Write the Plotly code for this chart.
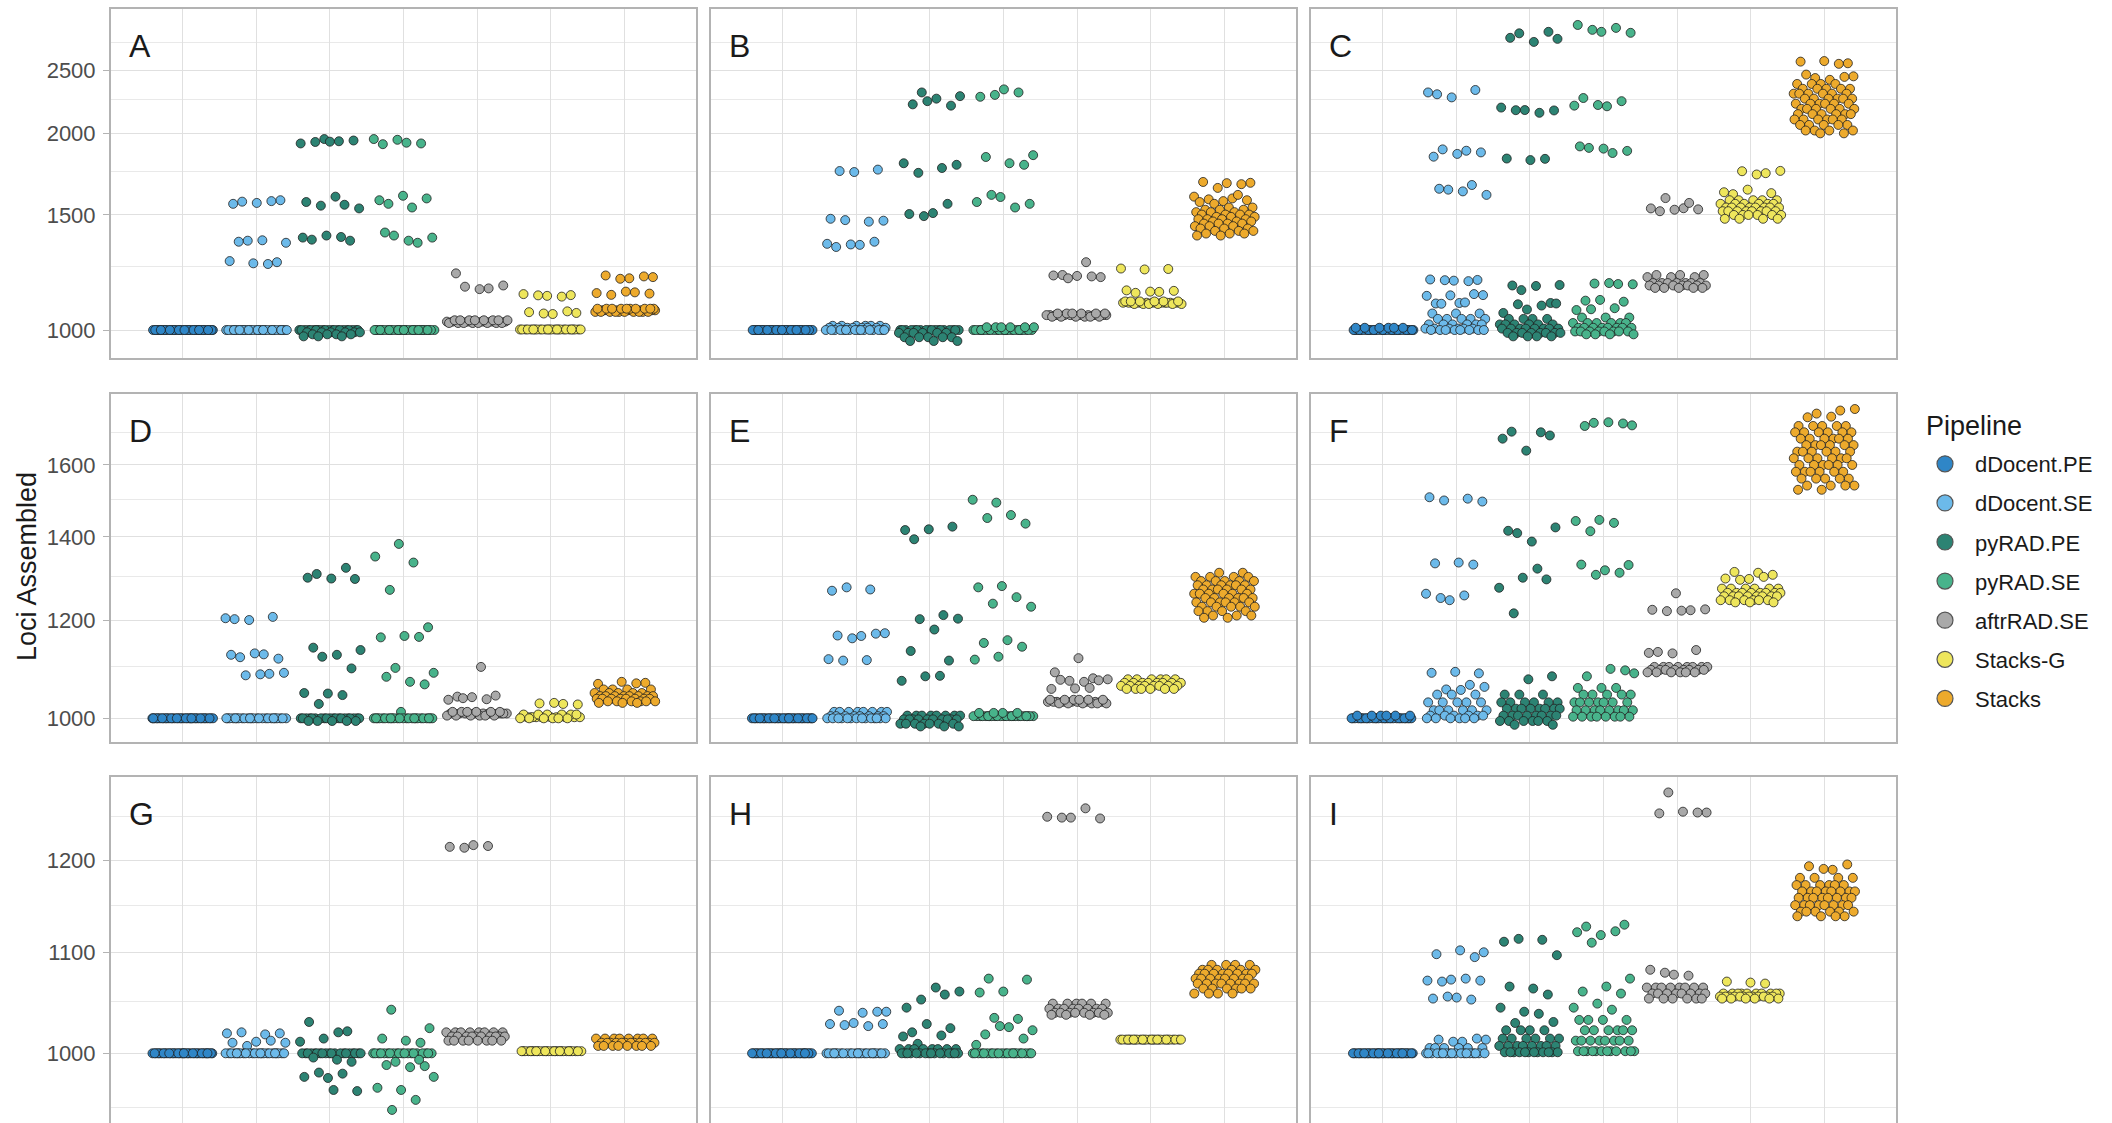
import plotly.graph_objects as go

# ---------------------------------------------------------------------------
# Data: loci assembled by each pipeline in nine simulated data sets (A-I).
# Each pipeline is given as (loci assembled, number of samples) pairs.
# ---------------------------------------------------------------------------
PIPELINES = ["dDocent.PE", "dDocent.SE", "pyRAD.PE", "pyRAD.SE",
             "aftrRAD.SE", "Stacks-G", "Stacks"]
COLORS = ["#2F86C7", "#6CBAEA", "#2C8373", "#48B38B",
          "#A9A9A9", "#EEE65C", "#EDAA2C"]
PANEL_LABELS = ["A", "B", "C", "D", "E", "F", "G", "H", "I"]

loci_A = [
    [(1000, 36)],
    [(1572, 1), (1580, 1), (1565, 1), (1560, 1), (1575, 1), (1370, 1), (1360, 1),
     (1372, 1), (1365, 1), (1270, 1), (1265, 1), (1275, 1), (1262, 1), (1000, 30)],
    [(1960, 1), (1930, 1), (1945, 1), (1940, 1), (1950, 1), (1942, 1), (1570, 1),
     (1555, 1), (1550, 1), (1535, 1), (1600, 1), (1375, 1), (1370, 1), (1395, 1),
     (1385, 1), (1388, 1), (1000, 22), (992, 6), (985, 4), (978, 3)],
    [(1935, 1), (1925, 1), (1930, 1), (1955, 1), (1960, 1), (1540, 1), (1560, 1),
     (1590, 1), (1605, 1), (1580, 1), (1360, 1), (1395, 1), (1385, 1), (1370, 1),
     (1410, 1), (1000, 30)],
    [(1158, 1), (1165, 1), (1170, 1), (1155, 1), (1221, 1), (1030, 12), (1025, 8),
     (1035, 8)],
    [(1131, 1), (1128, 1), (1135, 1), (1125, 1), (1130, 1), (1062, 1), (1058, 1),
     (1065, 1), (1068, 1), (1060, 1), (1002, 26)],
    [(1205, 1), (1200, 1), (1212, 1), (1208, 1), (1198, 1), (1139, 1), (1142, 1),
     (1132, 1), (1137, 1), (1145, 1), (1072, 14), (1066, 10), (1078, 10)],
]

loci_B = [
    [(1000, 36)],
    [(1751, 1), (1760, 1), (1745, 1), (1480, 1), (1465, 1), (1473, 1), (1470, 1),
     (1350, 1), (1340, 1), (1365, 1), (1352, 1), (1355, 1), (1015, 6), (1008, 8),
     (1000, 16)],
    [(2310, 1), (2280, 1), (2260, 1), (2215, 1), (2205, 1), (2240, 1), (1800, 1),
     (1770, 1), (1740, 1), (1790, 1), (1510, 1), (1505, 1), (1560, 1), (1494, 1),
     (1000, 18), (990, 6), (975, 5), (962, 3)],
    [(2335, 1), (2275, 1), (2310, 1), (2290, 1), (1852, 1), (1800, 1), (1840, 1),
     (1790, 1), (1598, 1), (1570, 1), (1540, 1), (1610, 1), (1560, 1), (1000, 24),
     (1010, 6)],
    [(1270, 1), (1214, 1), (1205, 1), (1210, 1), (1212, 1), (1208, 1), (1200, 1),
     (1054, 14), (1048, 6), (1060, 6)],
    [(1240, 1), (1238, 1), (1242, 1), (1144, 1), (1140, 1), (1148, 1), (1145, 1),
     (1150, 1), (1101, 14), (1096, 6), (1106, 6)],
    [(1680, 1), (1678, 1), (1685, 1), (1672, 1), (1650, 1), (1600, 1), (1590, 1),
     (1585, 1), (1580, 1), (1575, 1), (1570, 1), (1610, 1), (1560, 1), (1540, 2),
     (1528, 3), (1515, 3), (1502, 4), (1490, 3), (1478, 4), (1466, 3), (1455, 4),
     (1442, 3), (1430, 3), (1418, 3), (1405, 3), (1395, 2)],
]

loci_C = [
    [(1000, 30), (1008, 6)],
    [(2295, 1), (2330, 1), (2270, 1), (2310, 1), (1881, 1), (1890, 1), (1870, 1),
     (1860, 1), (1842, 1), (1667, 1), (1640, 1), (1610, 1), (1630, 1), (1645, 1),
     (1193, 1), (1190, 1), (1195, 1), (1188, 1), (1192, 1), (1131, 1), (1100, 1),
     (1098, 1), (1135, 1), (1130, 1), (1128, 1), (1102, 1), (1097, 1), (1060, 3),
     (1040, 5), (1020, 6), (1005, 6), (1000, 8)],
    [(2845, 1), (2790, 1), (2760, 1), (2800, 1), (2860, 1), (2171, 1), (2190, 1),
     (2150, 1), (2170, 1), (2168, 1), (1820, 1), (1830, 1), (1828, 1), (1151, 1),
     (1172, 1), (1168, 1), (1170, 1), (1100, 1), (1075, 1), (1062, 1), (1090, 1),
     (1095, 1), (1098, 1), (1040, 4), (1020, 6), (1005, 8), (990, 8), (978, 4)],
    [(2860, 1), (2930, 1), (2900, 1), (2880, 1), (2850, 1), (2200, 1), (2265, 1),
     (2240, 1), (2210, 1), (2205, 1), (1866, 1), (1900, 1), (1880, 1), (1895, 1),
     (1910, 1), (1176, 1), (1178, 1), (1175, 1), (1180, 1), (1109, 1), (1105, 1),
     (1112, 1), (1073, 1), (1080, 1), (1076, 1), (1045, 3), (1025, 6), (1008, 8),
     (995, 8), (985, 4)],
    [(1536, 1), (1520, 1), (1530, 1), (1528, 1), (1535, 1), (1565, 1), (1592, 1),
     (1214, 3), (1205, 3), (1180, 7), (1170, 7), (1160, 5)],
    [(1738, 1), (1750, 1), (1752, 1), (1730, 1), (1614, 1), (1620, 1), (1640, 1),
     (1625, 1), (1580, 5), (1560, 6), (1540, 8), (1520, 8), (1500, 6), (1480, 4)],
    [(2560, 1), (2580, 1), (2575, 1), (2555, 1), (2430, 1), (2445, 1), (2415, 1),
     (2460, 1), (2440, 1), (2380, 4), (2340, 5), (2300, 6), (2260, 6), (2220, 6),
     (2180, 6), (2140, 6), (2100, 6), (2060, 5), (2020, 4), (2000, 2)],
]

loci_D = [
    [(1000, 36)],
    [(1202, 1), (1207, 1), (1200, 1), (1204, 1), (1126, 1), (1120, 1), (1117, 1),
     (1128, 1), (1125, 1), (1086, 1), (1083, 1), (1088, 1), (1085, 1), (1000, 25)],
    [(1307, 1), (1295, 1), (1296, 1), (1298, 1), (1322, 1), (1121, 1), (1135, 1),
     (1125, 1), (1140, 1), (1097, 1), (1047, 1), (1048, 1), (1044, 1), (1027, 1),
     (1000, 20), (995, 5)],
    [(1382, 1), (1350, 1), (1335, 1), (1269, 1), (1184, 1), (1165, 1), (1162, 1),
     (1163, 1), (1098, 1), (1088, 1), (1070, 1), (1080, 1), (1065, 1), (1012, 1),
     (1000, 25)],
    [(1100, 1), (1041, 1), (1043, 1), (1040, 1), (1035, 1), (1036, 1), (1038, 1),
     (1009, 14), (1005, 6), (1012, 6)],
    [(1027, 1), (1028, 1), (1026, 1), (1029, 1), (1002, 14), (1007, 6), (1000, 6)],
    [(1068, 1), (1070, 1), (1066, 1), (1067, 1), (1055, 4), (1048, 5), (1042, 8),
     (1037, 8), (1032, 6), (1029, 3)],
]

loci_E = [
    [(1000, 36)],
    [(1267, 1), (1270, 1), (1275, 1), (1171, 1), (1165, 1), (1166, 1), (1170, 1),
     (1160, 1), (1116, 1), (1114, 1), (1113, 1), (1012, 8), (1004, 8), (1000, 14)],
    [(1394, 1), (1427, 1), (1420, 1), (1418, 1), (1211, 1), (1202, 1), (1203, 1),
     (1179, 1), (1133, 1), (1113, 1), (1081, 1), (1072, 1), (1082, 1), (1005, 8),
     (998, 10), (990, 7), (985, 3)],
    [(1492, 1), (1500, 1), (1458, 1), (1450, 1), (1435, 1), (1278, 1), (1275, 1),
     (1252, 1), (1237, 1), (1230, 1), (1156, 1), (1150, 1), (1142, 1), (1121, 1),
     (1115, 1), (1004, 24), (1010, 4)],
    [(1118, 1), (1089, 1), (1077, 1), (1072, 1), (1075, 1), (1070, 1), (1074, 1),
     (1073, 1), (1057, 1), (1056, 1), (1058, 1), (1031, 12), (1028, 6), (1035, 6)],
    [(1075, 6), (1068, 8), (1062, 8), (1056, 6)],
    [(1310, 2), (1300, 4), (1290, 5), (1280, 6), (1270, 6), (1260, 6), (1250, 6),
     (1240, 6), (1230, 5), (1220, 4), (1210, 3), (1205, 2)],
]

loci_F = [
    [(1000, 30), (1005, 6)],
    [(1507, 1), (1503, 1), (1498, 1), (1495, 1), (1335, 1), (1333, 1), (1330, 1),
     (1245, 1), (1260, 1), (1256, 1), (1250, 1), (1087, 1), (1090, 1), (1088, 1),
     (1064, 1), (1055, 1), (1060, 1), (1054, 1), (1045, 3), (1030, 5), (1015, 6),
     (1005, 6), (1000, 6)],
    [(1702, 1), (1690, 1), (1643, 1), (1680, 1), (1700, 1), (1410, 1), (1425, 1),
     (1388, 1), (1416, 1), (1294, 1), (1298, 1), (1274, 1), (1320, 1), (1215, 1),
     (1081, 1), (1075, 1), (1045, 3), (1030, 6), (1018, 8), (1005, 8), (995, 6),
     (988, 2)],
    [(1730, 1), (1722, 1), (1732, 1), (1720, 1), (1728, 1), (1445, 1), (1442, 1),
     (1437, 1), (1415, 1), (1329, 1), (1316, 1), (1330, 1), (1310, 1), (1305, 1),
     (1087, 1), (1096, 1), (1081, 1), (1093, 1), (1058, 3), (1045, 5), (1030, 7),
     (1015, 8), (1003, 8)],
    [(1261, 1), (1223, 1), (1222, 1), (1220, 1), (1224, 1), (1221, 1), (1131, 1),
     (1135, 1), (1128, 1), (1129, 1), (1100, 8), (1094, 8), (1089, 6)],
    [(1310, 1), (1312, 1), (1305, 1), (1295, 1), (1296, 1), (1300, 1), (1293, 1),
     (1272, 6), (1262, 8), (1254, 8), (1245, 6), (1240, 3)],
    [(1770, 1), (1760, 1), (1775, 1), (1750, 1), (1748, 1), (1720, 5), (1700, 6),
     (1680, 6), (1660, 6), (1640, 6), (1620, 6), (1600, 6), (1580, 6), (1560, 5),
     (1540, 4), (1528, 2)],
]

loci_G = [
    [(1000, 36)],
    [(1019, 1), (1018, 1), (1020, 1), (1019, 1), (1011, 1), (1010, 1), (1012, 1),
     (1007, 1), (1010, 1), (1000, 24)],
    [(1030, 1), (1021, 1), (1014, 1), (1011, 1), (1020, 1), (1000, 20), (994, 1),
     (996, 1), (992, 1), (977, 1), (978, 1), (981, 1), (982, 1), (965, 1), (966, 1)],
    [(1042, 1), (1024, 1), (1012, 1), (1014, 1), (1010, 1), (1000, 20), (994, 1),
     (992, 1), (978, 1), (987, 1), (989, 1), (988, 1), (966, 1), (968, 1), (957, 1),
     (948, 1)],
    [(1217, 1), (1215, 1), (1216, 1), (1214, 1), (1020, 8), (1016, 10), (1012, 8)],
    [(1002, 28)],
    [(1014, 8), (1010, 12), (1007, 8)],
]

loci_H = [
    [(1000, 36)],
    [(1040, 1), (1039, 1), (1041, 1), (1040, 1), (1029, 1), (1028, 1), (1026, 1),
     (1027, 1), (1028, 1), (1000, 24)],
    [(1044, 1), (1057, 1), (1052, 1), (1060, 1), (1064, 1), (1020, 1), (1024, 1),
     (1028, 1), (1016, 1), (1017, 1), (1009, 1), (1004, 8), (1000, 16)],
    [(1073, 1), (1072, 1), (1060, 1), (1059, 1), (1033, 1), (1034, 1), (1022, 1),
     (1025, 1), (1018, 1), (1014, 1), (1026, 1), (1008, 1), (1000, 22)],
    [(1249, 1), (1250, 1), (1260, 1), (1249, 1), (1248, 1), (1048, 6), (1043, 8),
     (1039, 8), (1037, 4)],
    [(1013, 28)],
    [(1087, 4), (1082, 6), (1078, 8), (1073, 8), (1068, 8), (1063, 6), (1058, 4)],
]

loci_I = [
    [(1000, 36)],
    [(1100, 1), (1102, 1), (1098, 1), (1095, 1), (1072, 1), (1071, 1), (1073, 1),
     (1070, 1), (1071, 1), (1054, 1), (1053, 1), (1052, 1), (1055, 1), (1013, 1),
     (1011, 1), (1013, 1), (1014, 1), (1011, 1), (1005, 6), (1000, 18)],
    [(1111, 1), (1113, 1), (1114, 1), (1097, 1), (1063, 1), (1065, 1), (1057, 1),
     (1040, 1), (1044, 1), (1038, 1), (1029, 1), (1030, 1), (1022, 4), (1014, 6),
     (1007, 8), (1001, 12)],
    [(1127, 1), (1129, 1), (1118, 1), (1121, 1), (1122, 1), (1110, 1), (1073, 1),
     (1065, 1), (1060, 1), (1058, 1), (1048, 1), (1044, 1), (1042, 1), (1032, 4),
     (1022, 6), (1012, 8), (1002, 12)],
    [(1279, 1), (1255, 1), (1256, 1), (1254, 1), (1255, 1), (1077, 1), (1082, 1),
     (1076, 1), (1079, 1), (1064, 8), (1058, 8), (1053, 6)],
    [(1069, 1), (1070, 1), (1068, 1), (1058, 10), (1055, 12), (1053, 6)],
    [(1189, 1), (1193, 1), (1195, 1), (1190, 1), (1180, 4), (1172, 6), (1165, 8),
     (1158, 8), (1150, 8), (1143, 6), (1138, 4)],
]

PANELS = [loci_A, loci_B, loci_C, loci_D, loci_E, loci_F, loci_G, loci_H, loci_I]

# y-axis breaks shared by the panels of each row
ROW_TICKS = [[1000, 1500, 2000, 2500], [1000, 1200, 1400, 1600], [1000, 1100, 1200]]
ROW_MINOR = [[1250, 1750, 2250, 2750], [1100, 1300, 1500, 1700], [950, 1050, 1150, 1250]]

# ---------------------------------------------------------------------------
# Layout geometry
# ---------------------------------------------------------------------------
W, H = 2112, 1123
FONT = "Liberation Sans, Arial, Helvetica, sans-serif"
COL_PX = [(111, 696), (711, 1296), (1311, 1896)]
ROW_PX = [(9, 358), (394, 742), (777, 1123)]
ROW_RANGE = [[2.9572, 3.4913], [2.9809, 3.2613], [2.97145, 3.1132]]  # log10 units
GRID = "#e0e0e0"
MINOR_GRID = "#e9e9e9"
BORDER = "#b3b3b3"

GOLD = 0.6180339887


def expand(pairs):
    out = []
    for value, count in pairs:
        out.extend([value] * count)
    return out


def spread(n, seed):
    """Deterministic horizontal jitter within +/-0.42 of the category centre."""
    return [((seed + k * GOLD) % 1.0 - 0.5) * 0.84 for k in range(n)]


fig = go.Figure()

for p, panel in enumerate(PANELS):
    ax = "" if p == 0 else str(p + 1)
    for g, pairs in enumerate(panel):
        ys = expand(pairs)
        offs = spread(len(ys), (0.137 * (p * 7 + g + 1)) % 1.0)
        xs = [g + 1 + o for o in offs]
        fig.add_trace(go.Scatter(
            x=xs, y=ys, mode="markers",
            xaxis="x" + ax, yaxis="y" + ax,
            name=PIPELINES[g], legendgroup=PIPELINES[g], showlegend=False,
            marker=dict(size=9, color=COLORS[g],
                        line=dict(color="#1f1f1f", width=0.8)),
            hoverinfo="name+y",
        ))

# legend entries
for g, name in enumerate(PIPELINES):
    fig.add_trace(go.Scatter(
        x=[None], y=[None], mode="markers", name=name, legendgroup=name,
        showlegend=True, xaxis="x", yaxis="y",
        marker=dict(size=16, color=COLORS[g], line=dict(color="#555555", width=1.2)),
    ))

layout = dict(
    width=W, height=H,
    margin=dict(l=0, r=0, t=0, b=0),
    paper_bgcolor="white", plot_bgcolor="white",
    font=dict(family=FONT, color="#1a1a1a"),
    showlegend=True,
    legend=dict(
        x=1915 / W, y=1 - 443 / H, xanchor="left", yanchor="top",
        font=dict(size=22, color="#1a1a1a"),
        itemwidth=50, tracegroupgap=7.5,
        bgcolor="rgba(0,0,0,0)", itemsizing="trace",
    ),
    annotations=[],
)

for p in range(9):
    r, c = divmod(p, 3)
    n = "" if p == 0 else str(p + 1)
    x0, x1 = COL_PX[c]
    top, bot = ROW_PX[r]
    layout["xaxis" + n] = dict(
        domain=[x0 / W, x1 / W], anchor="y" + n,
        range=[0.03, 7.97], tickvals=list(range(1, 8)), showticklabels=False,
        ticks="", showgrid=True, gridcolor=GRID, gridwidth=1.3, zeroline=False,
        showline=True, mirror=True, linecolor=BORDER, linewidth=2, fixedrange=True,
    )
    layout["yaxis" + n] = dict(
        domain=[1 - bot / H, 1 - top / H], anchor="x" + n,
        type="log", range=ROW_RANGE[r],
        tickmode="array", tickvals=ROW_TICKS[r],
        ticktext=[str(v) for v in ROW_TICKS[r]],
        showticklabels=(c == 0),
        ticks="outside" if c == 0 else "", ticklen=6, tickwidth=1.3, tickcolor=BORDER,
        ticklabelstandoff=3,
        tickfont=dict(size=22, color="#4d4d4d", family=FONT),
        showgrid=True, gridcolor=GRID, gridwidth=1.3, zeroline=False,
        minor=dict(tickmode="array", tickvals=ROW_MINOR[r], showgrid=True,
                   gridcolor=MINOR_GRID, gridwidth=0.9, ticks=""),
        showline=True, mirror=True, linecolor=BORDER, linewidth=2, fixedrange=True,
    )
    layout["annotations"].append(dict(
        text=PANEL_LABELS[p], xref="paper", yref="paper",
        x=(x0 + 16) / W, y=1 - top / H, xanchor="left", yanchor="top",
        yshift=-17, showarrow=False,
        font=dict(size=32, color="#1a1a1a", family=FONT),
    ))

# legend heading
layout["annotations"].append(dict(
    text="Pipeline", xref="paper", yref="paper",
    x=1924 / W, y=1 - 426 / H, xanchor="left", yanchor="middle",
    showarrow=False, font=dict(size=27, color="#1a1a1a", family=FONT),
))

layout["annotations"].append(dict(
    text="Loci Assembled", xref="paper", yref="paper",
    x=27 / W, y=1 - 567 / H, xanchor="center", yanchor="middle",
    textangle=-90, showarrow=False,
    font=dict(size=27, color="#1a1a1a", family=FONT),
))

fig.update_layout(**layout)
fig.write_html("out.html")
